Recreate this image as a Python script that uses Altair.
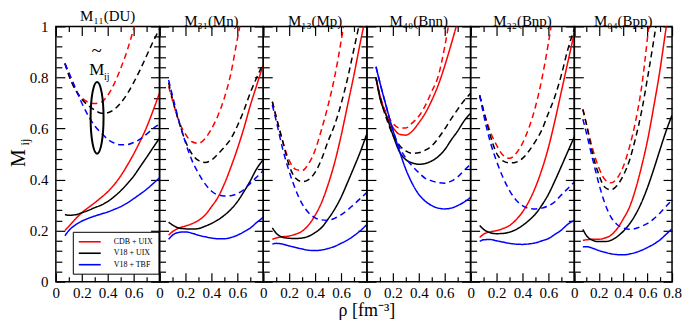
import altair as alt
import pandas as pd

SERIF = "Liberation Serif"
H = 256
WIDTHS = [104, 104, 104, 104, 104, 98]

RHO = [0.07, 0.1, 0.15, 0.2, 0.25, 0.3, 0.35, 0.4, 0.45, 0.5, 0.55, 0.6, 0.65, 0.7, 0.75, 0.8]
PANEL_TITLES = ["M₁₁(DU)", "M₃₁(Mn)", "M₁₃(Mp)", "M₄₀(Bnn)", "M₂₂(Bnp)", "M₀₄(Bpp)"]
MODELS = ["CDB + UIX", "V18 + UIX", "V18 + TBF"]
COLORS = ["#ff0000", "#000000", "#0000ff"]
KINDS = ["M", "M~"]  # solid = M_ij, dashed = M~_ij

X_LABELS = [0.0, 0.2, 0.4, 0.6]
X_LABELS_LAST = [0.0, 0.2, 0.4, 0.6, 0.8]
Y_LABELS = [0.0, 0.2, 0.4, 0.6, 0.8, 1.0]
X_TICKS = [0.0, 0.1, 0.2, 0.3, 0.4, 0.5, 0.6, 0.7, 0.8]
Y_TICKS = [0.0, 0.04, 0.08, 0.12, 0.16, 0.2, 0.24, 0.28, 0.32, 0.36, 0.4, 0.44, 0.48,
           0.52, 0.56, 0.6, 0.64, 0.68, 0.72, 0.76, 0.8, 0.84, 0.88, 0.92, 0.96, 1.0]

# M11 (DU)
DU_CDB = [.20, .217, .245, .27, .29, .309, .33, .352, .38, .414, .455, .50, .55, .605, .67, .74]
DU_V18 = [.263, .260, .262, .27, .279, .29, .30, .314, .333, .356, .383, .413, .45, .487, .525, .562]
DU_TBF = [.18, .20, .222, .237, .248, .257, .265, .273, .283, .294, .308, .325, .343, .362, .384, .407]
DU_CDB_T = [.855, .81, .752, .72, .703, .698, .703, .73, .775, .835, .905, .99, 1.08, None, None, None]
DU_V18_T = [.855, .81, .752, .715, .69, .672, .66, .662, .675, .70, .735, .78, .83, .885, .94, .99]
DU_TBF_T = [.855, .82, .76, .70, .65, .61, .583, .558, .543, .536, .537, .545, .558, .578, .60, .618]

# M31 (Mn)
MN_CDB = [.182, .196, .21, .218, .227, .24, .26, .293, .33, .383, .448, .52, .60, .69, .77, .85]
MN_V18 = [.233, .222, .21, .207, .206, .208, .217, .228, .242, .26, .283, .313, .352, .395, .443, .478]
MN_TBF = [.166, .182, .193, .195, .19, .182, .176, .171, .168, .168, .173, .182, .195, .21, .232, .252]
MN_CDB_T = [.765, .71, .628, .578, .548, .542, .56, .598, .65, .72, .815, .95, 1.08, None, None, None]
MN_V18_T = [.78, .715, .625, .55, .50, .475, .467, .476, .50, .527, .56, .61, .67, .74, .80, .855]
MN_TBF_T = [.79, .728, .63, .545, .475, .425, .384, .355, .34, .336, .337, .345, .36, .385, .41, .435]

# M13 (Mp)
MP_CDB = [.166, .171, .176, .179, .186, .198, .222, .26, .31, .38, .465, .57, .69, .81, .94, 1.06]
MP_V18 = [.211, .19, .174, .17, .169, .171, .178, .192, .212, .245, .283, .33, .388, .448, .51, .58]
MP_TBF = [.147, .15, .147, .14, .134, .128, .123, .122, .124, .13, .138, .15, .163, .18, .20, .224]
MP_CDB_T = [.705, .645, .55, .475, .44, .435, .462, .515, .597, .69, .80, .94, 1.1, None, None, None]
MP_V18_T = [.705, .645, .55, .455, .405, .392, .40, .428, .48, .55, .613, .695, .795, .912, 1.03, None]
MP_TBF_T = [.692, .63, .52, .432, .36, .305, .27, .25, .242, .24, .248, .262, .28, .303, .326, .35]

# M40 (Bnn)
BNN_CDB = [.797, .73, .652, .605, .578, .574, .59, .622, .66, .71, .77, .845, .93, 1.02, None, None]
BNN_V18 = [.80, .72, .65, .575, .51, .478, .465, .46, .463, .473, .49, .517, .555, .59, .63, .66]
BNN_TBF = [.842, .78, .685, .594, .513, .44, .384, .342, .315, .298, .288, .285, .288, .298, .312, .33]
BNN_CDB_T = [.797, .73, .66, .62, .602, .602, .622, .648, .69, .745, .805, .92, 1.07, None, None, None]
BNN_V18_T = [.797, .725, .64, .575, .535, .512, .503, .505, .515, .532, .562, .598, .638, .675, .71, .738]
BNN_TBF_T = [.842, .78, .685, .594, .527, .484, .453, .427, .405, .395, .388, .386, .394, .41, .436, .46]

# M22 (Bnp)
BNP_CDB = [.173, .186, .195, .20, .208, .22, .242, .273, .315, .37, .44, .525, .63, .745, .86, .975]
BNP_V18 = [.22, .205, .192, .188, .189, .194, .204, .22, .24, .265, .30, .342, .395, .452, .51, .567]
BNP_TBF = [.158, .164, .165, .16, .155, .15, .147, .146, .148, .152, .16, .169, .185, .202, .225, .24]
BNP_CDB_T = [.73, .67, .59, .535, .495, .483, .502, .542, .603, .685, .795, .935, 1.1, None, None, None]
BNP_V18_T = [.73, .67, .575, .503, .473, .465, .468, .483, .512, .55, .595, .66, .725, .81, .91, .99]
BNP_TBF_T = [.73, .655, .55, .472, .408, .357, .32, .298, .287, .285, .288, .297, .313, .34, .365, .39]

# M04 (Bpp)
BPP_CDB = [.162, .164, .166, .166, .171, .182, .207, .245, .29, .36, .45, .555, .685, .825, .99, 1.15]
BPP_V18 = [.205, .18, .162, .157, .157, .162, .176, .197, .225, .262, .31, .37, .44, .515, .588, .652]
BPP_TBF = [.136, .137, .131, .122, .115, .109, .106, .105, .108, .114, .123, .134, .147, .163, .185, .207]
BPP_CDB_T = [.675, .615, .52, .447, .40, .387, .405, .45, .525, .625, .76, .96, 1.2, None, None, None]
BPP_V18_T = [.675, .615, .50, .42, .37, .36, .377, .415, .473, .56, .665, .80, .945, 1.1, None, None]
BPP_TBF_T = [.637, .58, .48, .385, .307, .253, .224, .21, .205, .208, .217, .228, .246, .268, .294, .32]

PANEL_SERIES = [
    [DU_CDB, DU_V18, DU_TBF, DU_CDB_T, DU_V18_T, DU_TBF_T],
    [MN_CDB, MN_V18, MN_TBF, MN_CDB_T, MN_V18_T, MN_TBF_T],
    [MP_CDB, MP_V18, MP_TBF, MP_CDB_T, MP_V18_T, MP_TBF_T],
    [BNN_CDB, BNN_V18, BNN_TBF, BNN_CDB_T, BNN_V18_T, BNN_TBF_T],
    [BNP_CDB, BNP_V18, BNP_TBF, BNP_CDB_T, BNP_V18_T, BNP_TBF_T],
    [BPP_CDB, BPP_V18, BPP_TBF, BPP_CDB_T, BPP_V18_T, BPP_TBF_T],
]

# annotation in the first panel (ellipse around the dashed curves, labelled M~_ij)
ELLIPSE_RHO = [0.318]
ELLIPSE_M = [0.642]
ANNOT_TEXT = ["M", "~", "ij"]
ANNOT_RHO = [0.315, 0.315, 0.392]
ANNOT_M = [0.828, 0.905, 0.800]
ANNOT_SIZE = [17, 19, 10]

rows = []
for title, series in zip(PANEL_TITLES, PANEL_SERIES):
    for j, vals in enumerate(series):
        for r, v in zip(RHO, vals):
            if v is None:
                continue
            rows.append({"panel": title, "rho": r, "value": v,
                         "model": MODELS[j % 3], "kind": KINDS[j // 3]})
df = pd.DataFrame(rows)

xscale = alt.Scale(domain=[0, 0.8], nice=False, zero=False)
yscale = alt.Scale(domain=[0, 1], nice=False, zero=False)
anchor = pd.DataFrame({"rho": [0.0, 0.8], "value": [0.0, 1.0]})

XCOND = {"condition": {"test": "abs(datum.value * 5 - round(datum.value * 5)) < 0.01", "value": 9}, "value": 5}
YCOND = {"condition": {"test": "abs(datum.value * 5 - round(datum.value * 5)) < 0.01", "value": 9}, "value": 6}


def tick_axis(orient, offset, values, cond):
    return alt.Axis(orient=orient, offset=offset, values=values, tickSize=cond,
                    labels=False, domain=False, grid=False, title=None,
                    tickColor="black", tickWidth=1.2)


def label_axis(orient, values, pad):
    return alt.Axis(orient=orient, values=values, format=".1~f", ticks=False, domain=False,
                    grid=False, title=None, labelFlush=False, labelOverlap=False,
                    labelFont=SERIF, labelFontSize=15, labelColor="black", labelPadding=pad)


def make_panel(i):
    title = PANEL_TITLES[i]
    W = WIDTHS[i]
    d = df[df.panel == title]
    first = i == 0
    last = i == len(PANEL_TITLES) - 1
    legend = None
    if first:
        legend = alt.Legend(orient="none", legendX=17, legendY=206, title=None,
                            symbolType="M-1,0H4.5", symbolSize=64, symbolStrokeWidth=1.6,
                            labelFont=SERIF, labelFontSize=8, labelColor="black",
                            labelOffset=26, rowPadding=2.5, padding=5,
                            strokeColor="black", fillColor="white")
    lines = alt.Chart(d).mark_line(clip=True, strokeWidth=1.5, interpolate="monotone").encode(
        x=alt.X("rho:Q", scale=xscale,
                axis=label_axis("bottom", X_LABELS_LAST if last else X_LABELS, 4)),
        y=alt.Y("value:Q", scale=yscale,
                axis=label_axis("left", Y_LABELS, 8) if first else None),
        color=alt.Color("model:N", scale=alt.Scale(domain=MODELS, range=COLORS), legend=legend),
        strokeDash=alt.StrokeDash("kind:N", scale=alt.Scale(domain=KINDS, range=[[1, 0], [6, 4]]),
                                  legend=None),
    )
    ticks_a = alt.Chart(anchor).mark_point(opacity=0).encode(
        x=alt.X("rho:Q", scale=xscale, axis=tick_axis("top", -H, X_TICKS, XCOND)),
        y=alt.Y("value:Q", scale=yscale, axis=tick_axis("right", -W, Y_TICKS, YCOND)),
    )
    ticks_b = alt.Chart(anchor).mark_point(opacity=0).encode(
        x=alt.X("rho:Q", scale=xscale, axis=tick_axis("bottom", -H, X_TICKS, XCOND)),
        y=alt.Y("value:Q", scale=yscale, axis=tick_axis("left", -W, Y_TICKS, YCOND)),
    )
    layers = [lines, ticks_a, ticks_b]
    if first:
        ell = alt.Chart(pd.DataFrame({"rho": ELLIPSE_RHO, "value": ELLIPSE_M})).mark_point(
            shape="M-0.18,0A0.18,1 0 1,0 0.18,0A0.18,1 0 1,0 -0.18,0",
            size=5184, filled=False, stroke="black", strokeWidth=2, opacity=1,
        ).encode(
            x=alt.X("rho:Q", scale=xscale, axis=None),
            y=alt.Y("value:Q", scale=yscale, axis=None),
        )
        ann = alt.Chart(pd.DataFrame({"t": ANNOT_TEXT, "rho": ANNOT_RHO, "value": ANNOT_M,
                                      "s": ANNOT_SIZE})).mark_text(
            font=SERIF, color="black", align="center", baseline="middle",
        ).encode(
            x=alt.X("rho:Q", scale=xscale, axis=None),
            y=alt.Y("value:Q", scale=yscale, axis=None),
            text="t:N",
            size=alt.Size("s:Q", scale=None, legend=None),
        )
        ym = alt.Chart(pd.DataFrame({"t": ["M"]})).mark_text(
            font=SERIF, fontSize=20, angle=270, align="center", baseline="middle", color="black"
        ).encode(x=alt.value(-37), y=alt.value(H / 2 + 4), text="t:N")
        yij = alt.Chart(pd.DataFrame({"t": ["ij"]})).mark_text(
            font=SERIF, fontSize=12, angle=270, align="center", baseline="middle", color="black"
        ).encode(x=alt.value(-31), y=alt.value(H / 2 - 12), text="t:N")
        layers += [ell, ann, ym, yij]
    if i == 3:
        xt = alt.Chart(pd.DataFrame({"t": ["ρ [fm⁻³]"]})).mark_text(
            font=SERIF, fontSize=18, align="center", baseline="alphabetic", color="black"
        ).encode(x=alt.value(0), y=alt.value(H + 34), text="t:N")
        layers.append(xt)
    return alt.layer(*layers).resolve_scale(x="independent", y="independent").properties(
        width=W, height=H,
        title=alt.TitleParams(text=title, font=SERIF, fontSize=15, fontWeight="normal",
                              color="black", offset=-5),
    )


chart = alt.hconcat(*[make_panel(i) for i in range(len(PANEL_TITLES))], spacing=0, bounds="flush") \
    .resolve_scale(color="independent", strokeDash="independent") \
    .configure_view(stroke="black", strokeWidth=1.5) \
    .configure_axis(grid=False) \
    .properties(padding={"left": 0, "top": 0, "right": 0, "bottom": 0}, background="white")

chart.save("out.html", embed_options={"renderer": "svg", "actions": False})
